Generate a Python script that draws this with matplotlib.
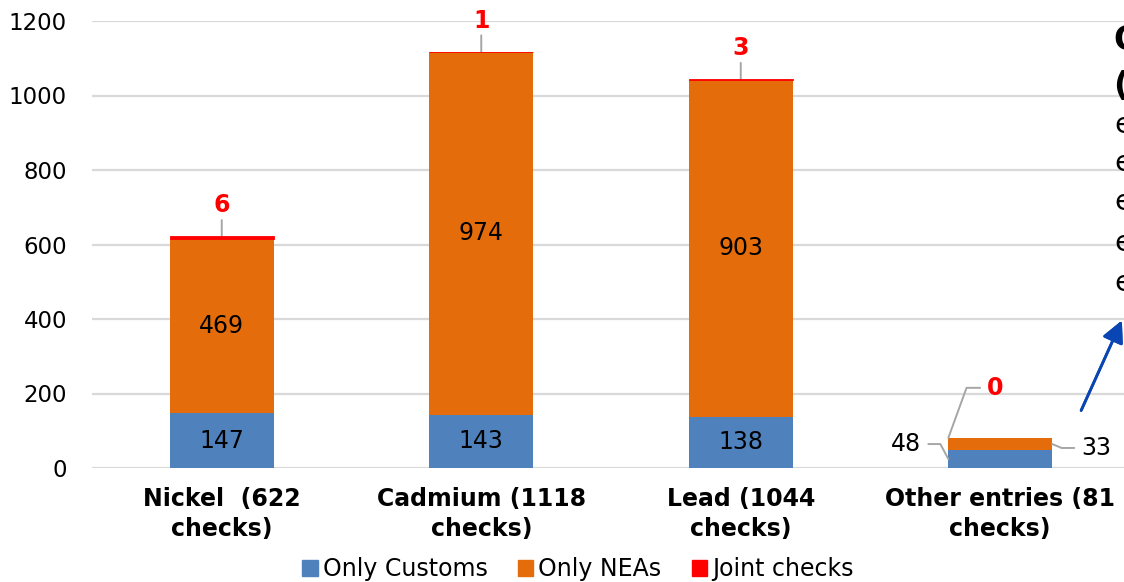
import matplotlib
matplotlib.use("Agg")
import matplotlib.pyplot as plt
from matplotlib.patches import Patch
import numpy as np

categories = ["Nickel  (622\nchecks)", "Cadmium (1118\nchecks)", "Lead (1044\nchecks)", "Other entries (81\nchecks)"]
only_customs = [147, 143, 138, 48]
only_neas = [469, 974, 903, 33]
joint_checks = [6, 1, 3, 0]
yticks = [0, 200, 400, 600, 800, 1000, 1200]

C_BLUE = "#4F81BD"
C_ORANGE = "#E46C0A"
C_RED = "#FF0000"
C_GRID = "#D9D9D9"
C_LEAD = "#A6A6A6"

plt.rcParams["font.family"] = ["DejaVu Sans"]

W, H = 1124, 582
fig = plt.figure(figsize=(W / 100, H / 100), dpi=100)
ax_left, ax_bottom = 92 / W, 1 - 468 / H
ax_w, ax_h = 1038 / W, (468 - 21) / H
ax = fig.add_axes([ax_left, ax_bottom, ax_w, ax_h])

x = np.arange(len(categories))
w = 0.4
cust = np.array(only_customs)
neas = np.array(only_neas)
joint = np.array(joint_checks)

ax.bar(x, cust, w, color=C_BLUE, edgecolor="none", linewidth=0, zorder=3)
ax.bar(x, neas, w, bottom=cust, color=C_ORANGE, edgecolor="none", linewidth=0, zorder=3)
ax.bar(x, joint, w, bottom=cust + neas, color=C_RED, edgecolor=C_RED,
       linewidth=[0.6 if j > 0 else 0 for j in joint_checks], zorder=3.5)

ax.set_xlim(-0.5, len(categories) - 0.5)
ax.set_ylim(0, 1200)
ax.set_yticks(yticks)
ax.tick_params(axis="y", length=0, pad=18, labelsize=16.5)
ax.tick_params(axis="x", length=0, pad=14)
ax.set_xticks(x)
ax.set_xticklabels(categories, fontsize=17, fontweight="bold", linespacing=1.28)
for s in ax.spines.values():
    s.set_visible(False)
ax.yaxis.grid(True, color=C_GRID, linewidth=1.6, zorder=0)
ax.set_axisbelow(True)

lbl = dict(fontsize=17, color="black", ha="center", va="center", zorder=5)
lead = dict(arrowstyle="-", color=C_LEAD, lw=1.4, shrinkB=0)
for i in range(3):
    ax.text(x[i], cust[i] / 2, str(cust[i]), **lbl)
    ax.text(x[i], cust[i] + neas[i] / 2, str(neas[i]), **lbl)
    top = cust[i] + neas[i] + joint[i]
    ax.annotate(str(joint[i]), xy=(x[i], top), xytext=(0, 31), textcoords="offset pixels",
                ha="center", va="center", fontsize=17, fontweight="bold", color=C_RED,
                annotation_clip=False,
                arrowprops=dict(shrinkA=0, **lead))

# Other entries: labels with leader lines
i = 3
top = cust[i] + neas[i] + joint[i]
ax.annotate(str(joint[i]), xy=(x[i] - w / 2, top), xytext=(47, 50), textcoords="offset pixels",
            ha="center", va="center", fontsize=17, fontweight="bold", color=C_RED,
            arrowprops=dict(shrinkA=3, connectionstyle="angle,angleA=180,angleB=70,rad=0", **lead))
ax.annotate(str(cust[i]), xy=(x[i] - w / 2, cust[i] / 2), xytext=(-42, 15), textcoords="offset pixels",
            ha="center", va="center", fontsize=17, color="black",
            arrowprops=dict(shrinkA=3, connectionstyle="angle,angleA=0,angleB=118,rad=0", **lead))
ax.annotate(str(neas[i]), xy=(x[i] + w / 2, cust[i] + neas[i] / 2), xytext=(44, -4), textcoords="offset pixels",
            ha="center", va="center", fontsize=17, color="black", annotation_clip=False,
            arrowprops=dict(shrinkA=3, connectionstyle="angle,angleA=180,angleB=-23,rad=0", **lead))

# Legend
handles = [Patch(color=C_BLUE, label="Only Customs"),
           Patch(color=C_ORANGE, label="Only NEAs"),
           Patch(color=C_RED, label="Joint checks")]
fig.legend(handles=handles, loc="center", bbox_to_anchor=(578 / W, 1 - 569 / H), ncol=3,
           frameon=False, fontsize=17, handlelength=0.65, handleheight=0.65,
           handletextpad=0.2, columnspacing=1.3)

# Partially visible callout box on the right edge (cut off in the original)
fig.text(1114 / W, 1 - 40 / H, "Other entries", fontsize=24, fontweight="bold", va="center", ha="left")
fig.text(1114 / W, 1 - 86 / H, "(81 checks)", fontsize=24, fontweight="bold", va="center", ha="left")
for yy in [125, 163, 202, 243, 283]:
    fig.text(1114 / W, 1 - yy / H, "entries", fontsize=21, va="center", ha="left")

fig.add_artist(plt.annotate("", xy=(1123 / W, 1 - 318 / H), xytext=(1080 / W, 1 - 413 / H),
                            xycoords="figure fraction", textcoords="figure fraction",
                            arrowprops=dict(arrowstyle="-|>,head_length=0.6,head_width=0.3",
                                            color="#0A45B4", lw=2, mutation_scale=22)))

fig.savefig("out.png", dpi=100)
